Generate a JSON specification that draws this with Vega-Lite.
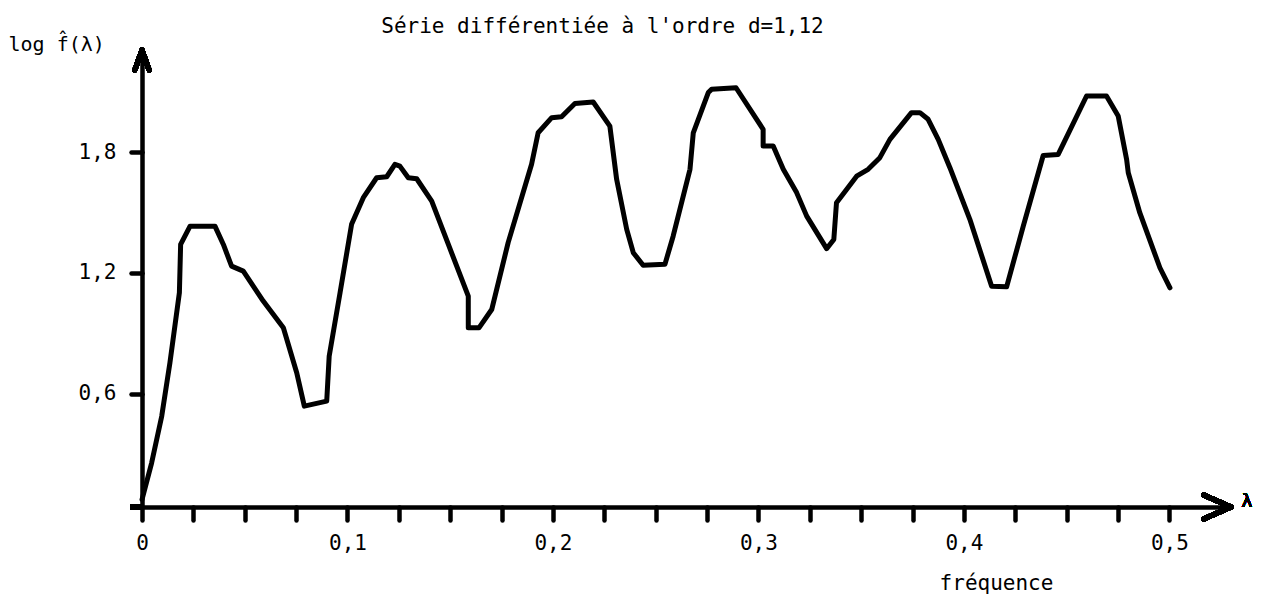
{
  "$schema": "https://vega.github.io/schema/vega-lite/v6.json",
  "autosize": {"type": "none"},
  "padding": {"left": 142, "top": 52, "right": 32, "bottom": 89},
  "width": 1089,
  "height": 455,
  "background": "white",
  "config": {
    "view": {"stroke": null},
    "font": "DejaVu Sans Mono",
    "axis": {"grid": false, "domainColor": "black", "tickColor": "black", "labelColor": "black", "titleColor": "black", "labelFont": "DejaVu Sans Mono", "titleFont": "DejaVu Sans Mono", "titleFontWeight": "normal"}
  },
  "title": {
    "text": "Série différentiée à l'ordre d=1,12",
    "font": "DejaVu Sans Mono",
    "fontSize": 21,
    "fontWeight": "normal",
    "color": "black",
    "anchor": "middle",
    "frame": "group",
    "dx": -84,
    "offset": -20,
    "baseline": "alphabetic"
  },
  "data": {
    "values": [
      {"i": 1, "f": 0.0, "v": 0.072},
      {"i": 2, "f": 0.0047, "v": 0.255},
      {"i": 3, "f": 0.0096, "v": 0.487},
      {"i": 4, "f": 0.0136, "v": 0.754},
      {"i": 5, "f": 0.0182, "v": 1.102},
      {"i": 6, "f": 0.0188, "v": 1.342},
      {"i": 7, "f": 0.0234, "v": 1.433},
      {"i": 8, "f": 0.0355, "v": 1.433},
      {"i": 9, "f": 0.0396, "v": 1.342},
      {"i": 10, "f": 0.0436, "v": 1.234},
      {"i": 11, "f": 0.0493, "v": 1.209},
      {"i": 12, "f": 0.059, "v": 1.06},
      {"i": 13, "f": 0.0688, "v": 0.927},
      {"i": 14, "f": 0.0753, "v": 0.703},
      {"i": 15, "f": 0.079, "v": 0.537},
      {"i": 16, "f": 0.0899, "v": 0.562},
      {"i": 17, "f": 0.0911, "v": 0.786},
      {"i": 18, "f": 0.0964, "v": 1.102},
      {"i": 19, "f": 0.102, "v": 1.442},
      {"i": 20, "f": 0.1077, "v": 1.575},
      {"i": 21, "f": 0.1142, "v": 1.674},
      {"i": 22, "f": 0.1191, "v": 1.679},
      {"i": 23, "f": 0.1231, "v": 1.741},
      {"i": 24, "f": 0.1255, "v": 1.732},
      {"i": 25, "f": 0.1296, "v": 1.674},
      {"i": 26, "f": 0.1337, "v": 1.669},
      {"i": 27, "f": 0.141, "v": 1.558},
      {"i": 28, "f": 0.1491, "v": 1.342},
      {"i": 29, "f": 0.1588, "v": 1.085},
      {"i": 30, "f": 0.1588, "v": 0.927},
      {"i": 31, "f": 0.164, "v": 0.927},
      {"i": 32, "f": 0.1702, "v": 1.018},
      {"i": 33, "f": 0.1782, "v": 1.351},
      {"i": 34, "f": 0.1896, "v": 1.741},
      {"i": 35, "f": 0.1928, "v": 1.898},
      {"i": 36, "f": 0.1994, "v": 1.973},
      {"i": 37, "f": 0.2042, "v": 1.978},
      {"i": 38, "f": 0.2107, "v": 2.044},
      {"i": 39, "f": 0.2196, "v": 2.051},
      {"i": 40, "f": 0.2277, "v": 1.931},
      {"i": 41, "f": 0.231, "v": 1.666},
      {"i": 42, "f": 0.2359, "v": 1.417},
      {"i": 43, "f": 0.2391, "v": 1.301},
      {"i": 44, "f": 0.2439, "v": 1.238},
      {"i": 45, "f": 0.2545, "v": 1.243},
      {"i": 46, "f": 0.2585, "v": 1.383},
      {"i": 47, "f": 0.2667, "v": 1.716},
      {"i": 48, "f": 0.2683, "v": 1.898},
      {"i": 49, "f": 0.2756, "v": 2.098},
      {"i": 50, "f": 0.2772, "v": 2.114},
      {"i": 51, "f": 0.2891, "v": 2.122},
      {"i": 52, "f": 0.3023, "v": 1.915},
      {"i": 53, "f": 0.3023, "v": 1.832},
      {"i": 54, "f": 0.3072, "v": 1.832},
      {"i": 55, "f": 0.3121, "v": 1.716},
      {"i": 56, "f": 0.3186, "v": 1.6},
      {"i": 57, "f": 0.3235, "v": 1.483},
      {"i": 58, "f": 0.3332, "v": 1.321},
      {"i": 59, "f": 0.3367, "v": 1.367},
      {"i": 60, "f": 0.338, "v": 1.55},
      {"i": 61, "f": 0.3478, "v": 1.682},
      {"i": 62, "f": 0.3534, "v": 1.716},
      {"i": 63, "f": 0.3591, "v": 1.774},
      {"i": 64, "f": 0.364, "v": 1.865},
      {"i": 65, "f": 0.3745, "v": 1.998},
      {"i": 66, "f": 0.3786, "v": 1.998},
      {"i": 67, "f": 0.3826, "v": 1.965},
      {"i": 68, "f": 0.3875, "v": 1.865},
      {"i": 69, "f": 0.3932, "v": 1.724},
      {"i": 70, "f": 0.4029, "v": 1.467},
      {"i": 71, "f": 0.4135, "v": 1.134},
      {"i": 72, "f": 0.4208, "v": 1.131},
      {"i": 73, "f": 0.4289, "v": 1.433},
      {"i": 74, "f": 0.4386, "v": 1.785},
      {"i": 75, "f": 0.4459, "v": 1.79},
      {"i": 76, "f": 0.4597, "v": 2.081},
      {"i": 77, "f": 0.4694, "v": 2.081},
      {"i": 78, "f": 0.4751, "v": 1.981},
      {"i": 79, "f": 0.4792, "v": 1.765},
      {"i": 80, "f": 0.48, "v": 1.699},
      {"i": 81, "f": 0.4856, "v": 1.5},
      {"i": 82, "f": 0.4954, "v": 1.226},
      {"i": 83, "f": 0.5003, "v": 1.126}
    ]
  },
  "layer": [
    {
      "mark": {"type": "line", "color": "black", "strokeWidth": 5, "strokeJoin": "round", "strokeCap": "round"},
      "encoding": {
        "x": {
          "field": "f", "type": "quantitative",
          "scale": {"domain": [0, 0.53], "nice": false, "zero": false},
          "axis": {
            "title": "fréquence",
            "titleFontSize": 21,
            "titleAlign": "center",
            "titleBaseline": "alphabetic",
            "titleX": 854,
            "titleY": 82,
            "values": [0, 0.025, 0.05, 0.075, 0.1, 0.125, 0.15, 0.175, 0.2, 0.225, 0.25, 0.275, 0.3, 0.325, 0.35, 0.375, 0.4, 0.425, 0.45, 0.475, 0.5],
            "labelExpr": "datum.value == 0 ? '0' : (abs(datum.value * 10 - round(datum.value * 10)) < 0.001 ? replace(format(datum.value, '.1f'), '.', ',') : '')",
            "labelFontSize": 21,
            "labelPadding": 12,
            "labelFlush": false,
            "labelOverlap": false,
            "domainWidth": 4.5,
            "tickWidth": 4.5,
            "tickSize": 13,
            "tickCap": "round"
          }
        },
        "y": {
          "field": "v", "type": "quantitative",
          "scale": {"domain": [0.035, 2.3], "nice": false, "zero": false},
          "axis": {
            "title": "log f̂(λ)",
            "titleFontSize": 20,
            "titleAngle": 0,
            "titleAlign": "left",
            "titleBaseline": "alphabetic",
            "titleX": -134,
            "titleY": -2,
            "values": [0.6, 1.2, 1.8],
            "labelExpr": "replace(format(datum.value, '.1f'), '.', ',')",
            "labelFontSize": 21,
            "labelPadding": 15,
            "domainWidth": 4.5,
            "tickWidth": 4.5,
            "tickSize": 11,
            "tickCap": "round"
          }
        },
        "order": {"field": "i", "type": "quantitative"}
      }
    },
    {
      "mark": {"type": "rule", "color": "black", "strokeWidth": 4.5},
      "encoding": {
        "x": {"datum": -0.0055, "type": "quantitative"},
        "x2": {"datum": 0},
        "y": {"datum": 0.035, "type": "quantitative"}
      }
    },
    {
      "mark": {"type": "point", "shape": "M -0.4 1 L 0 -0.1 L 0.4 1", "size": 1296, "filled": false, "stroke": "black", "strokeWidth": 5, "strokeCap": "round", "strokeJoin": "round", "opacity": 1},
      "encoding": {
        "x": {"datum": 0, "type": "quantitative"},
        "y": {"datum": 2.3, "type": "quantitative"}
      }
    },
    {
      "mark": {"type": "point", "shape": "M -1 -0.44 L 0 0 L -1 0.44", "size": 2916, "filled": false, "stroke": "black", "strokeWidth": 5, "strokeCap": "round", "strokeJoin": "round", "opacity": 1},
      "encoding": {
        "x": {"datum": 0.53, "type": "quantitative"},
        "y": {"datum": 0.035, "type": "quantitative"}
      }
    },
    {
      "mark": {"type": "text", "text": "λ", "font": "DejaVu Sans Mono", "fontSize": 18, "color": "black", "align": "center", "baseline": "middle"},
      "encoding": {
        "x": {"datum": 0.5377, "type": "quantitative"},
        "y": {"datum": 0.06, "type": "quantitative"}
      }
    }
  ]
}
